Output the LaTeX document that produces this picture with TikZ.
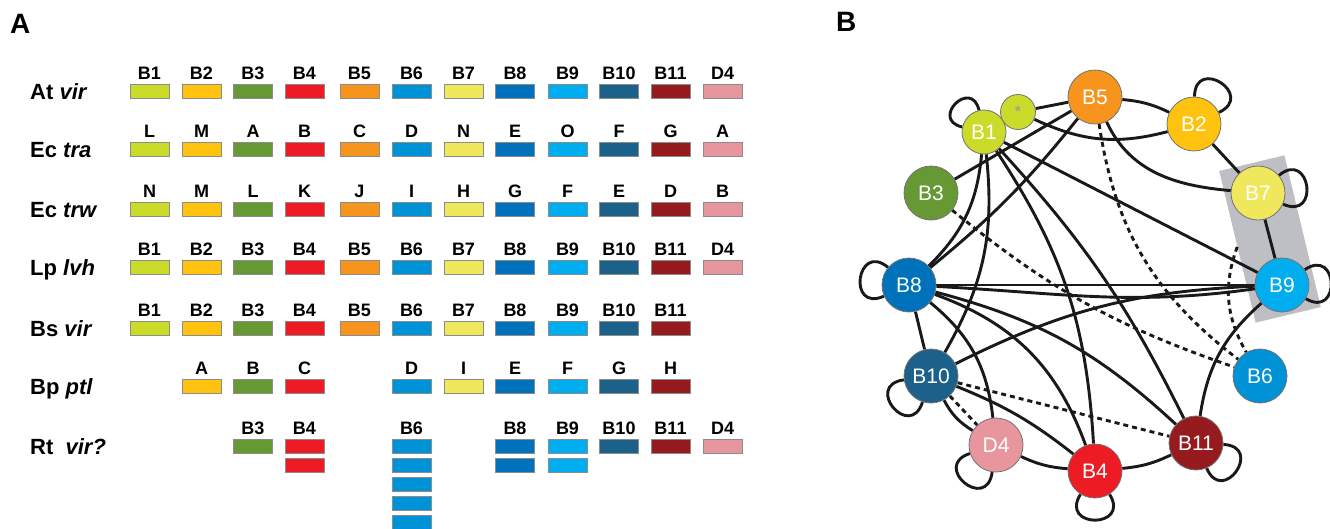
\documentclass[tikz,border=0pt]{standalone}
\usepackage{fontspec}
\setmainfont{Liberation Sans}
\usepackage{tikz}
\usetikzlibrary{backgrounds}

\definecolor{g1}{RGB}{203,219,42}
\definecolor{g2}{RGB}{255,194,14}
\definecolor{g3}{RGB}{102,153,51}
\definecolor{g4}{RGB}{237,28,36}
\definecolor{g5}{RGB}{247,148,29}
\definecolor{g6}{RGB}{0,146,214}
\definecolor{g7}{RGB}{239,232,93}
\definecolor{g8}{RGB}{0,114,188}
\definecolor{g9}{RGB}{0,174,239}
\definecolor{g10}{RGB}{27,97,138}
\definecolor{g11}{RGB}{150,27,31}
\definecolor{g12}{RGB}{232,150,158}
\definecolor{boxgray}{RGB}{190,191,196}

\begin{document}
\begin{tikzpicture}[
    x=1pt, y=1pt,
    every label/.style={font=\fontsize{18}{18}\selectfont\bfseries, inner sep=0pt, yshift=4pt},
    gbox/.style={rectangle, draw=black!45, line width=0.8pt, minimum width=39pt,
                 minimum height=14pt, inner sep=0pt, label distance=6pt},
    tag/.style={anchor=base west, inner sep=0pt, font=\fontsize{22}{22}\selectfont\bfseries},
    panel/.style={anchor=base west, inner sep=0pt, font=\fontsize{28}{28}\selectfont\bfseries},
    gnode/.style={circle, draw=black!55, line width=0.8pt, minimum size=54pt, inner sep=0pt,
                  text=white, font=\fontsize{21}{21}\selectfont},
    grpbox/.style={rectangle, fill=boxgray, minimum width=67pt, minimum height=156pt, rotate=13.5},
    lnk/.style={line width=2.9pt, black!90},
    weak/.style={lnk, dash pattern=on 5pt off 4pt},
    sloop/.style={lnk, looseness=3.6}
  ]
    \useasboundingbox (0,0) rectangle (1330,-528);

    % A: gene order
    \node[panel] (pA) at (10,-33) {A};
    \foreach \x [count=\i] in {149.5,201.5,253,304.5,359.5,411.5,463.5,515,567.5,619,670.5,722.5}
      \coordinate (k\i) at (\x,0);
    \foreach \y [count=\j] in {-91,-149.5,-209,-267.5,-328,-386,-446}
      \coordinate (r\j) at (0,\y);

    \node[tag] (tAt) at (30,-99) {At \textit{vir}};
    \foreach \t [count=\i] in {B1,B2,B3,B4,B5,B6,B7,B8,B9,B10,B11,D4}
      \node[gbox, fill=g\i, label=above:\t] (at\i) at (k\i |- r1) {};

    \node[tag] (tEc) at (30,-157.5) {Ec \textit{tra}};
    \foreach \t [count=\i] in {L,M,A,B,C,D,N,E,O,F,G,A}
      \node[gbox, fill=g\i, label=above:\t] (ec\i) at (k\i |- r2) {};

    \node[tag] (tEw) at (30,-217) {Ec \textit{trw}};
    \foreach \t [count=\i] in {N,M,L,K,J,I,H,G,F,E,D,B}
      \node[gbox, fill=g\i, label=above:\t] (ew\i) at (k\i |- r3) {};

    \node[tag] (tLp) at (30,-275.5) {Lp \textit{lvh}};
    \foreach \t [count=\i] in {B1,B2,B3,B4,B5,B6,B7,B8,B9,B10,B11,D4}
      \node[gbox, fill=g\i, label=above:\t] (lp\i) at (k\i |- r4) {};

    \node[tag] (tBs) at (30,-336) {Bs \textit{vir}};
    \foreach \t [count=\i] in {B1,B2,B3,B4,B5,B6,B7,B8,B9,B10,B11}
      \node[gbox, fill=g\i, label=above:\t] (bs\i) at (k\i |- r5) {};

    \node[tag] (tBp) at (30,-394) {Bp \textit{ptl}};
    \foreach \i/\t in {2/A,3/B,4/C,6/D,7/I,8/E,9/F,10/G,11/H}
      \node[gbox, fill=g\i, label=above:\t] (bp\i) at (k\i |- r6) {};

    \node[tag] (tRt) at (30,-454) {Rt~~\textit{vir?}};
    \foreach \i/\t in {3/B3,4/B4,6/B6,8/B8,9/B9,10/B10,11/B11,12/D4}
      \node[gbox, fill=g\i, label=above:\t] (rt\i) at (k\i |- r7) {};
    \foreach \i/\n in {4/2,6/5,8/2,9/2}
      \foreach \k in {2,...,\n}
        \node[gbox, fill=g\i] (rt\i x\k) at ([yshift=-19*(\k-1)]k\i |- r7) {};

    % B: interaction network
    \node[panel] (pB) at (836,-31) {B};
    \node[gnode, fill=g5] (B5) at (1095,-97) {B5};
    \node[gnode, fill=g1, minimum size=35pt, text=white!60!black,
          font=\fontsize{17}{17}\selectfont] (st) at (1018,-112) {\raisebox{-0.35em}{*}};
    \node[gnode, fill=g1, minimum size=44pt] (B1) at (984,-132) {B1};
    \node[gnode, fill=g2] (B2) at (1194,-124) {B2};
    \node[gnode, fill=g3] (B3) at (931,-193) {B3};
    \node[gnode, fill=g7] (B7) at (1258,-193) {B7};
    \node[gnode, fill=g8] (B8) at (909,-285) {B8};
    \node[gnode, fill=g9] (B9) at (1282,-285) {B9};
    \node[gnode, fill=g10] (B10) at (931,-376) {B10};
    \node[gnode, fill=g6] (B6) at (1260,-376) {B6};
    \node[gnode, fill=g12] (D4) at (996,-445) {D4};
    \node[gnode, fill=g4] (B4) at (1095,-471) {B4};
    \node[gnode, fill=g11] (B11) at (1196,-443) {B11};

    \begin{scope}[on background layer]
      \node[grpbox] (grp) at (1270,-239) {};
      % solid links
      \draw[lnk] (st) -- (B5);
      \draw[lnk] (st) to[bend right=20] (B2);
      \draw[lnk] (B5) to[bend left=10] (B2);
      \draw[lnk] (B2) -- (B7);
      \draw[lnk] (B5) to[out=-65, in=175] (B7);
      \draw[lnk] (B7) -- (B9);
      \draw[lnk] (B3) -- (B5);
      \draw[lnk] (B5) to[bend left=6] (B8);
      \draw[lnk] (B1) to[bend left=20] (B8);
      \draw[lnk] (B1) to[bend left=18] (B10);
      \draw[lnk] (B1) to[bend left=15] (B4);
      \draw[lnk] (B1) to[bend left=8] (B11);
      \draw[lnk] (B1) -- (B9);
      \draw[lnk] (B8) -- (B9);
      \draw[lnk] (B8) to[out=-3, in=188] (B9);
      \draw[lnk] (B10) to[bend left=12] (B9);
      \draw[lnk] (B9) to[bend right=20] (B11);
      \draw[lnk] (B8) to[bend left=14] (B11);
      \draw[lnk] (B8) to[bend left=25] (B4);
      \draw[lnk] (B8) to[bend left=22] (D4);
      \draw[lnk] (B8) -- (B10);
      \draw[lnk] (B10) to[bend left=8] (B4);
      \draw[lnk] (B10) to[bend right=15] (D4);
      \draw[lnk] (D4) to[bend right=10] (B4);
      \draw[lnk] (B4) to[bend right=10] (B11);
      % dotted links
      \draw[weak] (B3) to[bend right=10] (B6);
      \draw[weak] (B5) to[bend right=22] (B6);
      \draw[weak] (grp.west) to[out=-110, in=120] (B6);
      \draw[weak] (B10) -- (B11);
      \draw[weak] (B10) -- (D4);
      % self loops
      \draw[sloop] (B1) to[out=167, in=103] (B1);
      \draw[sloop] (B2) to[out=89, in=25] (B2);
      \draw[sloop] (B7) to[out=40, in=-24] (B7);
      \draw[sloop] (B8) to[out=204, in=140] (B8);
      \draw[sloop] (B9) to[out=34, in=-30] (B9);
      \draw[sloop] (B10) to[out=252, in=188] (B10);
      \draw[sloop] (D4) to[out=262, in=198] (D4);
      \draw[sloop] (B4) to[out=302, in=238] (B4);
      \draw[sloop] (B11) to[out=-3, in=-67] (B11);
    \end{scope}
  \end{tikzpicture}
\end{document}
